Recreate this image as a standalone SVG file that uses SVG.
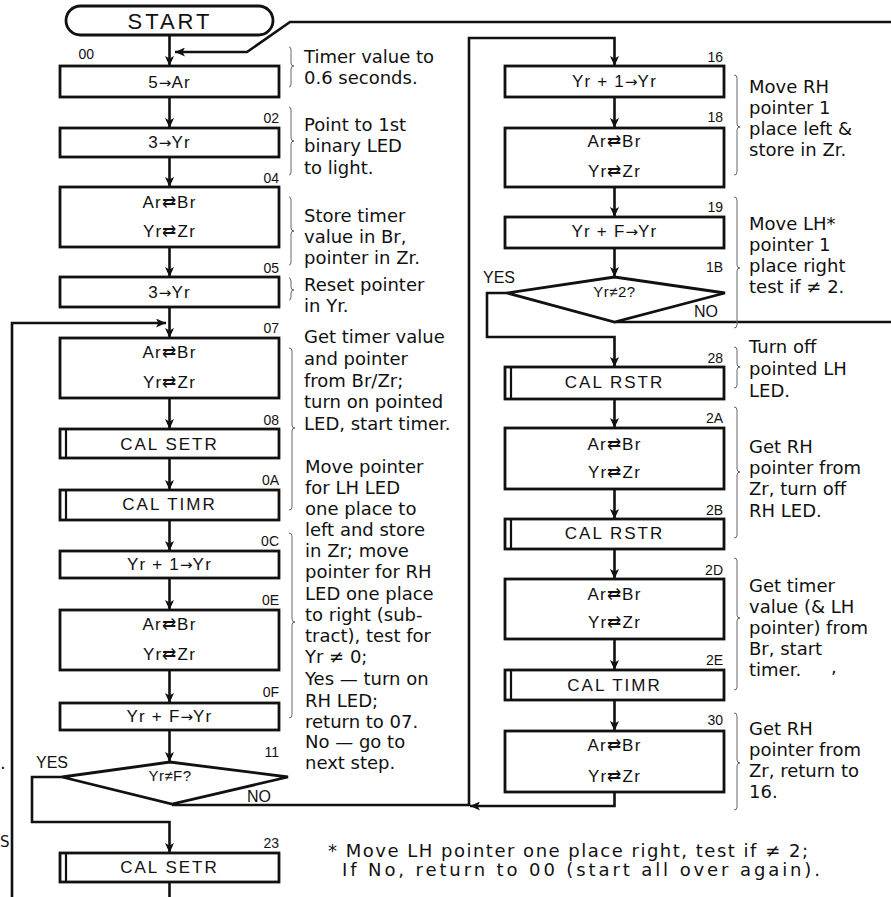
<svg xmlns="http://www.w3.org/2000/svg" width="891" height="897" viewBox="0 0 891 897">
<defs>
<marker id="ah" markerUnits="userSpaceOnUse" markerWidth="11" markerHeight="9" refX="10" refY="4.5" orient="auto">
<path d="M0,0 L10,4.5 L0,9 L2.5,4.5 z" fill="#111"/>
</marker>
</defs>
<style>
.bx{fill:#fff;stroke:#111;stroke-width:2.8}
.bar{stroke:#111;stroke-width:2.2;fill:none}
.cn{fill:none;stroke:#111;stroke-width:2.6}
.br{fill:none;stroke:#666;stroke-width:1}
.t{font-family:"Liberation Sans",Arial,sans-serif;font-size:17px;fill:#111;text-anchor:middle;letter-spacing:1.2px}
.tc{font-family:"Liberation Sans",Arial,sans-serif;font-size:17px;fill:#111;text-anchor:middle;letter-spacing:2px}
.td{font-family:"Liberation Sans",Arial,sans-serif;font-size:15px;fill:#111;text-anchor:middle;letter-spacing:0.5px}
.ar{font-family:"DejaVu Sans",sans-serif;font-size:15px;letter-spacing:0}
.lb{font-family:"Liberation Sans",Arial,sans-serif;font-size:14px;fill:#111;text-anchor:end}
.yn{font-family:"Liberation Sans",Arial,sans-serif;font-size:16px;fill:#111}
.c{font-family:"DejaVu Sans",sans-serif;font-size:18px;fill:#111}
.f{font-family:"DejaVu Sans",sans-serif;font-size:18px;fill:#111}
</style>
<rect width="891" height="897" fill="#fff"/>

<g id="connectors">
<path class="cn" d="M169.5,35 V66" marker-end="url(#ah)"/>
<path class="cn" d="M169.5,97 V128" marker-end="url(#ah)"/>
<path class="cn" d="M169.5,157 V187" marker-end="url(#ah)"/>
<path class="cn" d="M169.5,247 V277" marker-end="url(#ah)"/>
<path class="cn" d="M169.5,307 V338" marker-end="url(#ah)"/>
<path class="cn" d="M12,897 V323 H166" marker-end="url(#ah)"/>
<path class="cn" d="M169.5,398 V429" marker-end="url(#ah)"/>
<path class="cn" d="M169.5,458 V490" marker-end="url(#ah)"/>
<path class="cn" d="M169.5,520 V551" marker-end="url(#ah)"/>
<path class="cn" d="M169.5,578 V610" marker-end="url(#ah)"/>
<path class="cn" d="M169.5,670 V703" marker-end="url(#ah)"/>
<path class="cn" d="M169.5,730 V762" marker-end="url(#ah)"/>
<path class="cn" d="M62,777 H32 V822 H169.5 V853" marker-end="url(#ah)"/>
<path class="cn" d="M172,805 H469"/>
<path class="cn" d="M614.5,792 V806 H470" marker-end="url(#ah)"/>
<path class="cn" d="M469,806 V38 H614.5 V66" marker-end="url(#ah)"/>
<path class="cn" d="M169.5,882 V897"/>
<path class="cn" d="M614.5,97 V128" marker-end="url(#ah)"/>
<path class="cn" d="M614.5,187 V217" marker-end="url(#ah)"/>
<path class="cn" d="M614.5,248 V277" marker-end="url(#ah)"/>
<path class="cn" d="M507,293 H487 V337 H614.5 V367" marker-end="url(#ah)"/>
<path class="cn" d="M614.5,322 H891"/>
<path class="cn" d="M614.5,399 V428" marker-end="url(#ah)"/>
<path class="cn" d="M614.5,489 V519" marker-end="url(#ah)"/>
<path class="cn" d="M614.5,549 V579" marker-end="url(#ah)"/>
<path class="cn" d="M614.5,639 V670" marker-end="url(#ah)"/>
<path class="cn" d="M614.5,700 V731" marker-end="url(#ah)"/>
<path class="cn" d="M891,22 H290 L247,52 H175" marker-end="url(#ah)"/>
</g>

<g id="start">
<rect class="bx" x="66" y="6" width="207" height="29" rx="14.5"/>
<text x="170" y="29" class="t" style="font-size:22px;letter-spacing:3px">START</text>
</g>

<g id="n00"><rect class="bx" x="60" y="66" width="219" height="31"/><text class="t" x="169.5" y="88">5<tspan class="ar">→</tspan>Ar</text><text class="lb" x="94" y="59">00</text></g>
<g id="n02"><rect class="bx" x="60" y="128" width="219" height="29"/><text class="t" x="169.5" y="148">3<tspan class="ar">→</tspan>Yr</text><text class="lb" x="279" y="123">02</text></g>
<g id="n04"><rect class="bx" x="60" y="187" width="219" height="60"/><text class="t" x="169.5" y="208">Ar⇄Br</text><text class="t" x="169.5" y="237">Yr⇄Zr</text><text class="lb" x="279" y="183">04</text></g>
<g id="n05"><rect class="bx" x="60" y="277" width="219" height="30"/><text class="t" x="169.5" y="298">3<tspan class="ar">→</tspan>Yr</text><text class="lb" x="279" y="273">05</text></g>
<g id="n07"><rect class="bx" x="60" y="338" width="219" height="60"/><text class="t" x="169.5" y="358">Ar⇄Br</text><text class="t" x="169.5" y="388">Yr⇄Zr</text><text class="lb" x="279" y="333">07</text></g>
<g id="n08"><rect class="bx" x="60" y="429" width="219" height="29"/><path class="bar" d="M66,429 V458"/><text class="tc" x="169.5" y="450">CAL SETR</text><text class="lb" x="279" y="425">08</text></g>
<g id="n0A"><rect class="bx" x="60" y="490" width="219" height="30"/><path class="bar" d="M66,490 V520"/><text class="tc" x="169.5" y="510">CAL TIMR</text><text class="lb" x="279" y="485">0A</text></g>
<g id="n0C"><rect class="bx" x="60" y="551" width="219" height="27"/><text class="t" x="169.5" y="570">Yr + 1<tspan class="ar">→</tspan>Yr</text><text class="lb" x="279" y="546">0C</text></g>
<g id="n0E"><rect class="bx" x="60" y="610" width="219" height="60"/><text class="t" x="169.5" y="630">Ar⇄Br</text><text class="t" x="169.5" y="660">Yr⇄Zr</text><text class="lb" x="279" y="605">0E</text></g>
<g id="n0F"><rect class="bx" x="60" y="703" width="219" height="27"/><text class="t" x="169.5" y="722">Yr + F<tspan class="ar">→</tspan>Yr</text><text class="lb" x="279" y="697">0F</text></g>
<g id="n11"><path class="bx" d="M62,777 L170,762 L288,777 L172,804 Z"/><text class="td" x="170" y="781">Yr≠F?</text><text class="lb" x="279" y="757">11</text>
<text class="yn" x="36" y="768">YES</text><text class="yn" x="247" y="802">NO</text></g>
<g id="n23"><rect class="bx" x="60" y="853" width="219" height="29"/><path class="bar" d="M66,853 V882"/><text class="tc" x="169.5" y="873">CAL SETR</text><text class="lb" x="279" y="848">23</text></g>

<g id="n16"><rect class="bx" x="505" y="66" width="219" height="31"/><text class="t" x="614.5" y="87">Yr + 1<tspan class="ar">→</tspan>Yr</text><text class="lb" x="723" y="62">16</text></g>
<g id="n18"><rect class="bx" x="505" y="128" width="219" height="59"/><text class="t" x="614.5" y="147">Ar⇄Br</text><text class="t" x="614.5" y="177">Yr⇄Zr</text><text class="lb" x="723" y="122">18</text></g>
<g id="n19"><rect class="bx" x="505" y="217" width="219" height="31"/><text class="t" x="614.5" y="237">Yr + F<tspan class="ar">→</tspan>Yr</text><text class="lb" x="723" y="212">19</text></g>
<g id="n1B"><path class="bx" d="M507,293 L614.5,277 L725,293 L614.5,322 Z"/><text class="td" x="614.5" y="297">Yr≠2?</text><text class="lb" x="723" y="272">1B</text>
<text class="yn" x="483" y="283">YES</text><text class="yn" x="694" y="317">NO</text></g>
<g id="n28"><rect class="bx" x="505" y="367" width="219" height="32"/><path class="bar" d="M511,367 V399"/><text class="tc" x="614.5" y="388">CAL RSTR</text><text class="lb" x="723" y="363">28</text></g>
<g id="n2A"><rect class="bx" x="505" y="428" width="219" height="61"/><text class="t" x="614.5" y="450">Ar⇄Br</text><text class="t" x="614.5" y="478">Yr⇄Zr</text><text class="lb" x="723" y="423">2A</text></g>
<g id="n2B"><rect class="bx" x="505" y="519" width="219" height="30"/><path class="bar" d="M511,519 V549"/><text class="tc" x="614.5" y="539">CAL RSTR</text><text class="lb" x="723" y="515">2B</text></g>
<g id="n2D"><rect class="bx" x="505" y="579" width="219" height="60"/><text class="t" x="614.5" y="600">Ar⇄Br</text><text class="t" x="614.5" y="628">Yr⇄Zr</text><text class="lb" x="723" y="575">2D</text></g>
<g id="n2E"><rect class="bx" x="505" y="670" width="219" height="30"/><path class="bar" d="M511,670 V700"/><text class="tc" x="614.5" y="691">CAL TIMR</text><text class="lb" x="723" y="665">2E</text></g>
<g id="n30"><rect class="bx" x="505" y="731" width="219" height="61"/><text class="t" x="614.5" y="751">Ar⇄Br</text><text class="t" x="614.5" y="782">Yr⇄Zr</text><text class="lb" x="723" y="725">30</text></g>

<g id="braces">
<path class="br" d="M289,47 Q291,47 291,50 V63 Q291,66 294,66 Q291,66 291,69 V84 Q291,87 289,87"/>
<path class="br" d="M289,107 Q291,107 291,110 V138 Q291,141 294,141 Q291,141 291,144 V172 Q291,175 289,175"/>
<path class="br" d="M289,197 Q291,197 291,200 V228 Q291,231 294,231 Q291,231 291,234 V262 Q291,265 289,265"/>
<path class="br" d="M289,278 Q291,278 291,281 V287 Q291,290 294,290 Q291,290 291,293 V297 Q291,300 289,300"/>
<path class="br" d="M289,348 Q292,348 292,351 V425 Q292,428 295,428 Q292,428 292,431 V507 Q292,510 289,510"/>
<path class="br" d="M289,533 Q292,533 292,536 V619 Q292,622 295,622 Q292,622 292,625 V715 Q292,718 289,718"/>
<path class="br" d="M734,75 Q737,75 737,78 V124 Q737,127 740,127 Q737,127 737,130 V172 Q737,175 734,175"/>
<path class="br" d="M734,197 Q737,197 737,200 V265 Q737,268 740,268 Q737,268 737,271 V325 Q737,328 734,328"/>
<path class="br" d="M734,347 Q737,347 737,350 V364 Q737,367 740,367 Q737,367 737,370 V385 Q737,388 734,388"/>
<path class="br" d="M734,407 Q737,407 737,410 V469 Q737,472 740,472 Q737,472 737,475 V535 Q737,538 734,538"/>
<path class="br" d="M734,558 Q737,558 737,561 V615 Q737,618 740,618 Q737,618 737,621 V687 Q737,690 734,690"/>
<path class="br" d="M734,713 Q737,713 737,716 V760 Q737,763 740,763 Q737,763 737,766 V807 Q737,810 734,810"/>
</g>

<g id="comments">
<text class="c" x="304" y="63">Timer value to</text>
<text class="c" x="304" y="84">0.6 seconds.</text>
<text class="c" x="304" y="131">Point to 1st</text>
<text class="c" x="304" y="152">binary LED</text>
<text class="c" x="304" y="174">to light.</text>
<text class="c" x="304" y="222">Store timer</text>
<text class="c" x="304" y="243">value in Br,</text>
<text class="c" x="304" y="264">pointer in Zr.</text>
<text class="c" x="304" y="291">Reset pointer</text>
<text class="c" x="304" y="312">in Yr.</text>
<text class="c" x="304" y="343">Get timer value</text>
<text class="c" x="304" y="365">and pointer</text>
<text class="c" x="304" y="387">from Br/Zr;</text>
<text class="c" x="304" y="408">turn on pointed</text>
<text class="c" x="304" y="430">LED, start timer.</text>
<text class="c" x="305" y="473">Move pointer</text>
<text class="c" x="305" y="494">for LH LED</text>
<text class="c" x="305" y="515">one place to</text>
<text class="c" x="305" y="536">left and store</text>
<text class="c" x="305" y="557">in Zr; move</text>
<text class="c" x="305" y="578">pointer for RH</text>
<text class="c" x="305" y="600">LED one place</text>
<text class="c" x="305" y="621">to right (sub-</text>
<text class="c" x="305" y="642">tract), test for</text>
<text class="c" x="305" y="663">Yr ≠ 0;</text>
<text class="c" x="305" y="685">Yes — turn on</text>
<text class="c" x="305" y="707">RH LED;</text>
<text class="c" x="305" y="728">return to 07.</text>
<text class="c" x="305" y="748">No — go to</text>
<text class="c" x="305" y="769">next step.</text>

<text class="c" x="749" y="93">Move RH</text>
<text class="c" x="749" y="114">pointer 1</text>
<text class="c" x="749" y="135">place left &amp;</text>
<text class="c" x="749" y="156">store in Zr.</text>
<text class="c" x="749" y="230">Move LH*</text>
<text class="c" x="749" y="251">pointer 1</text>
<text class="c" x="749" y="272">place right</text>
<text class="c" x="749" y="293">test if ≠ 2.</text>
<text class="c" x="749" y="353">Turn off</text>
<text class="c" x="749" y="375">pointed LH</text>
<text class="c" x="749" y="397">LED.</text>
<text class="c" x="749" y="453">Get RH</text>
<text class="c" x="749" y="474">pointer from</text>
<text class="c" x="749" y="495">Zr, turn off</text>
<text class="c" x="749" y="517">RH LED.</text>
<text class="c" x="749" y="592">Get timer</text>
<text class="c" x="749" y="613">value (&amp; LH</text>
<text class="c" x="749" y="634">pointer) from</text>
<text class="c" x="749" y="655">Br, start</text>
<text class="c" x="749" y="676">timer.</text>
<text class="c" x="831" y="673">,</text>
<text class="c" x="749" y="735">Get RH</text>
<text class="c" x="749" y="756">pointer from</text>
<text class="c" x="749" y="777">Zr, return to</text>
<text class="c" x="749" y="798">16.</text>

<text class="f" x="328" y="857" textLength="480" lengthAdjust="spacing">* Move LH pointer one place right, test if ≠ 2;</text>
<text class="f" x="342" y="876" textLength="478" lengthAdjust="spacing">If  No,  return  to  00  (start  all  over  again).</text>
<text class="c" x="0" y="769">.</text>
<text class="c" x="0" y="847" style="font-size:15px">S</text>
</g>
</svg>
